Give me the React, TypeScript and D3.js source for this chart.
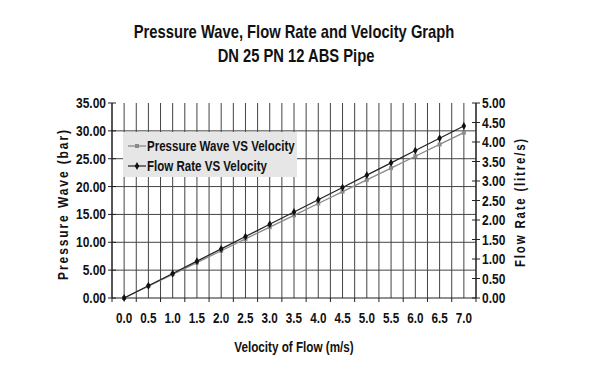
import React from "react";
import * as d3 from "d3";

const velocities = ["0.0","0.5","1.0","1.5","2.0","2.5","3.0","3.5","4.0","4.5","5.0","5.5","6.0","6.5","7.0"];
const pressureWave = [0, 2.12, 4.24, 6.36, 8.48, 10.6, 12.72, 14.84, 16.96, 19.08, 21.2, 23.32, 25.44, 27.56, 29.68];
const flowRate = [0, 0.315, 0.63, 0.945, 1.26, 1.575, 1.89, 2.205, 2.52, 2.835, 3.15, 3.465, 3.78, 4.095, 4.41];
const leftTicks = [0, 5, 10, 15, 20, 25, 30, 35];
const rightTicks = [0, 0.5, 1, 1.5, 2, 2.5, 3, 3.5, 4, 4.5, 5];

const FONT = "'Liberation Sans', Arial, sans-serif";

type NTProps = {
  x: number; y: number; size: number; sx?: number; anchor?: "start" | "middle" | "end";
  rotate?: number; spacing?: number; children: React.ReactNode;
};
function NText({ x, y, size, sx = 0.8, anchor = "start", rotate = 0, spacing = 0, children }: NTProps) {
  return (
    <g transform={`translate(${x},${y}) rotate(${rotate}) scale(${sx},1)`}>
      <text x={0} y={0} textAnchor={anchor} fontSize={size} fontWeight="bold" fill="#111" letterSpacing={spacing}>{children}</text>
    </g>
  );
}

export default function App() {
  const W = 601, H = 369;
  const L = 112, R = 476, T = 103, B = 298;
  const x = d3.scaleBand<string>().domain(velocities).range([L, R]);
  const yL = d3.scaleLinear().domain([0, 35]).range([B, T]);
  const yR = d3.scaleLinear().domain([0, 5]).range([B, T]);
  const bw = x.bandwidth();
  const vGrid: number[] = [];
  velocities.forEach((v) => {
    const s = x(v)!;
    vGrid.push(s, s + bw / 2);
  });
  vGrid.push(R);

  const cx = (i: number) => x(velocities[i])! + bw / 2;
  const pLine = d3.line<number>().x((_, i) => cx(i)).y((d) => yL(d));
  const fLine = d3.line<number>().x((_, i) => cx(i)).y((d) => yR(d));
  const gridColor = "#444";
  const diamond = d3.symbol(d3.symbolDiamond, 18)()!;

  return (
    <svg width={W} height={H} style={{ position: "absolute", left: 0, top: 0, background: "#fff" }} fontFamily={FONT}>
      <rect x={0} y={0} width={W} height={H} fill="#fff" />
      <NText x={294} y={38} size={18} sx={0.82} anchor="middle">Pressure Wave, Flow Rate and Velocity Graph</NText>
      <NText x={296} y={62} size={18} sx={0.82} anchor="middle">DN 25 PN 12 ABS Pipe</NText>

      {vGrid.map((gx, i) => (
        <line key={"v" + i} x1={gx} x2={gx} y1={T} y2={B} stroke={gridColor} strokeWidth={1} />
      ))}
      {leftTicks.filter((t) => t > 0 && t < 35).map((t) => (
        <line key={"h" + t} x1={L} x2={R} y1={yL(t)} y2={yL(t)} stroke={gridColor} strokeWidth={1} />
      ))}
      <line x1={L} x2={L} y1={T} y2={B} stroke="#222" strokeWidth={1.2} />
      <line x1={R} x2={R} y1={T} y2={B} stroke="#222" strokeWidth={1.2} />
      <line x1={L} x2={R} y1={B} y2={B} stroke="#222" strokeWidth={1.2} />
      {leftTicks.map((t) => (
        <g key={"lt" + t}>
          <line x1={L - 4} x2={L + 4} y1={yL(t)} y2={yL(t)} stroke="#222" />
          <NText x={106} y={yL(t) + 5} size={15} sx={0.8} anchor="end">{t.toFixed(2)}</NText>
        </g>
      ))}
      {rightTicks.map((t) => (
        <g key={"rt" + t}>
          <line x1={R - 4} x2={R + 4} y1={yR(t)} y2={yR(t)} stroke="#222" />
          <NText x={482} y={yR(t) + 5} size={15} sx={0.8} anchor="start">{t.toFixed(2)}</NText>
        </g>
      ))}
      {velocities.map((v) => (
        <g key={"xt" + v}>
          <line x1={x(v)!} x2={x(v)!} y1={B} y2={B + 4} stroke="#222" />
          <NText x={x(v)! + bw / 2} y={323} size={15} sx={0.78} anchor="middle">{v}</NText>
        </g>
      ))}
      <line x1={R} x2={R} y1={B} y2={B + 4} stroke="#222" />

      <NText x={68} y={204} size={14} sx={0.86} rotate={-90} spacing={2.2} anchor="middle">Pressure Wave (bar)</NText>
      <NText x={525} y={202} size={14} sx={0.82} rotate={-90} spacing={2.2} anchor="middle">Flow Rate (litre/s)</NText>
      <NText x={294} y={352} size={15} sx={0.78} anchor="middle">Velocity of Flow (m/s)</NText>

      <path d={pLine(pressureWave)!} fill="none" stroke="#8a8a8a" strokeWidth={1.3} />
      {pressureWave.map((d, i) => (
        <rect key={"pm" + i} x={cx(i) - 2} y={yL(d) - 2} width={4} height={4} fill="#8a8a8a" />
      ))}
      <path d={fLine(flowRate)!} fill="none" stroke="#222" strokeWidth={1.2} />
      {flowRate.map((d, i) => (
        <path key={"fm" + i} d={diamond} transform={`translate(${cx(i)},${yR(d)})`} fill="#111" />
      ))}

      <rect x={123} y={132} width={174} height={45} fill="#e6e6e6" />
      <line x1={128} x2={146} y1={146} y2={146} stroke="#8a8a8a" strokeWidth={1.3} />
      <rect x={135} y={144} width={4} height={4} fill="#8a8a8a" />
      <NText x={147} y={151} size={15} sx={0.77}>Pressure Wave VS Velocity</NText>
      <line x1={128} x2={146} y1={166} y2={166} stroke="#222" strokeWidth={1.2} />
      <path d={diamond} transform="translate(137,166)" fill="#111" />
      <NText x={147} y={171} size={15} sx={0.77}>Flow Rate VS Velocity</NText>
    </svg>
  );
}
